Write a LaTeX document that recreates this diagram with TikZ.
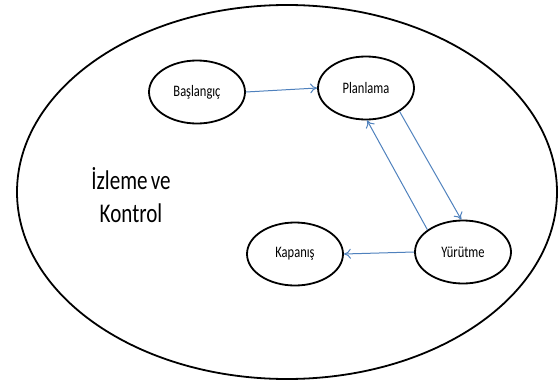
\documentclass[tikz,border=0pt]{standalone}
\usepackage{fontspec}
\setmainfont[FakeStretch=0.78]{Carlito}
\usetikzlibrary{shapes.geometric,arrows.meta}
\definecolor{linkblue}{RGB}{79,129,189}
\newcommand\bigtightfont{\fontsize{27pt}{33pt}\selectfont\spaceskip=0.12em\relax}
\tikzset{
  phase/.style={ellipse, draw=black, line width=1.8pt, minimum width=96pt, minimum height=63pt, inner sep=0pt, font=\fontsize{16pt}{19pt}\selectfont},
  flow/.style={draw=linkblue, line width=1pt, -{To[length=7pt,width=10pt]}},
  outer/.style={draw=black, line width=1.8pt}
}
\begin{document}
\begin{tikzpicture}[x=1pt,y=-1pt]
\useasboundingbox (0,0) rectangle (558,383);
\draw[outer] (287,192) ellipse [x radius=270, y radius=187];
\node[align=center, font=\bigtightfont] (label) at (131,195) {İzleme ve\\Kontrol};
\node[phase] (bas) at (197,92) {Başlangıç};
\node[phase] (plan) at (366,88) {Planlama};
\node[phase] (yur) at (463,252) {Yürütme};
\node[phase] (kap) at (295,254) {Kapanış};
\draw[flow] (bas.east) -- (plan.west);
\draw[flow] (plan.-35) -- (yur.93);
\draw[flow] (yur.148) -- (plan.-88);
\draw[flow] (yur.west) -- (kap.east);
\end{tikzpicture}
\end{document}
